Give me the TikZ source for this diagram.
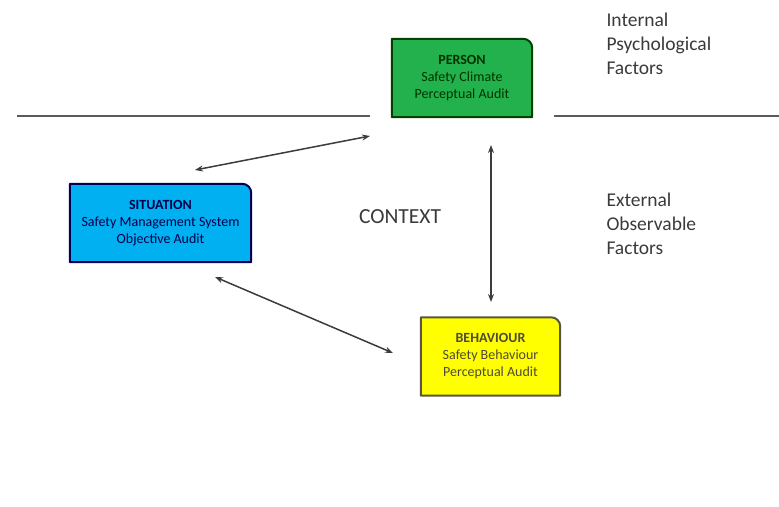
\documentclass[tikz,border=0pt]{standalone}
\usepackage{fontspec}
\setmainfont{Carlito}
\usetikzlibrary{arrows.meta}
\definecolor{pgreen}{HTML}{22B14C}
\definecolor{sblue}{HTML}{00B0F0}
\definecolor{byellow}{HTML}{FFFF00}
\definecolor{linegray}{HTML}{5A5A5A}
\definecolor{arrowgray}{HTML}{3C3C3C}
\definecolor{labelgray}{HTML}{3A3A3A}
\tikzset{
  factorbox/.style={rectangle, minimum height=78pt, inner sep=0pt, align=center},
  boxtext/.style={align=center, font=\fontsize{14}{17}\selectfont},
  sidetext/.style={anchor=north west, align=left, text=labelgray,
    font=\fontsize{19.5}{24}\selectfont},
  divider/.style={draw=linegray, line width=2pt},
  link/.style={draw=arrowgray, line width=1.5pt, {Stealth[length=8pt,width=6pt]}-{Stealth[length=8pt,width=6pt]}},
}
% outline with a rounded top-right corner only
\newcommand{\tabbox}[3]{%
  \draw[fill=#2, draw=#3, line width=2pt, line join=round]
    (#1.south west) -- (#1.north west) -- ([xshift=-9pt]#1.north east)
    arc[start angle=90, end angle=0, radius=9pt] -- (#1.south east) -- cycle;}
\begin{document}
\begin{tikzpicture}[x=1pt, y=-1pt]
\useasboundingbox (0,0) rectangle (779,506);

% horizontal dividers between internal and external factors
\coordinate (l1) at (17,116);
\coordinate (l2) at (370,116);
\coordinate (r1) at (554,116);
\coordinate (r2) at (779,116);
\draw[divider] (l1) -- (l2);
\draw[divider] (r1) -- (r2);

% factor boxes
\node[factorbox, minimum width=140pt] (person) at (462,78) {};
\node[factorbox, minimum width=181pt] (situation) at (160.5,223) {};
\node[factorbox, minimum width=139pt] (behaviour) at (490.5,356.5) {};
\tabbox{person}{pgreen}{green!25!black}
\tabbox{situation}{sblue}{blue!35!black}
\tabbox{behaviour}{byellow}{yellow!25!black}
\node[boxtext, text=green!20!black] (persontxt) at (person.center)
  {\textbf{PERSON}\\Safety Climate\\Perceptual Audit};
\node[boxtext, text=blue!30!black] (situationtxt) at (situation.center)
  {\textbf{SITUATION}\\Safety Management System\\Objective Audit};
\node[boxtext, text=yellow!20!black] (behaviourtxt) at (behaviour.center)
  {\textbf{BEHAVIOUR}\\Safety Behaviour\\Perceptual Audit};

% context label
\node[text=labelgray, font=\fontsize{21.5}{24}\selectfont] (context) at (400,217) {CONTEXT};

% side labels
\node[sidetext] (internal) at (603,9) {Internal\\Psychological\\Factors};
\node[sidetext] (external) at (603,189) {External\\Observable\\Factors};

% relationships
\coordinate (a1) at (195,170);
\coordinate (a2) at (370,136);
\coordinate (b1) at (491,145);
\coordinate (b2) at (491,302);
\coordinate (c1) at (215,277);
\coordinate (c2) at (393,353);
\draw[link] (a1) -- (a2);
\draw[link] (b1) -- (b2);
\draw[link] (c1) -- (c2);
\end{tikzpicture}
\end{document}
